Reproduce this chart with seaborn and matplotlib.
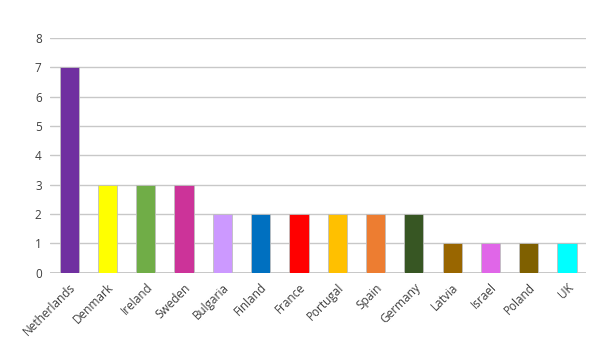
import matplotlib
matplotlib.use("Agg")
import matplotlib.pyplot as plt
import seaborn as sns
import pandas as pd

countries = ["Netherlands", "Denmark", "Ireland", "Sweden", "Bulgaria", "Finland", "France",
             "Portugal", "Spain", "Germany", "Latvia", "Israel", "Poland", "UK"]
values = [7, 3, 3, 3, 2, 2, 2, 2, 2, 2, 1, 1, 1, 1]
colors = ["#7030A0", "#FFFF00", "#70AD47", "#CC3399", "#CC99FF", "#0070C0", "#FF0000",
          "#FFC000", "#ED7D31", "#375623", "#996600", "#E066E8", "#7F6000", "#00FFFF"]
yticks = [0, 1, 2, 3, 4, 5, 6, 7, 8]

sns.set_theme(style="white")
plt.rcParams['font.family'] = ['Open Sans', 'DejaVu Sans']

df = pd.DataFrame({"country": countries, "value": values})

fig = plt.figure(figsize=(6, 3.5), dpi=100)
ax = fig.add_axes([0.0833, 0.221, 0.8937, 0.671])
sns.barplot(data=df, x="country", y="value", hue="country", palette=colors,
            saturation=1, legend=False, width=0.5, edgecolor="#BFBFBF", linewidth=0.6,
            ax=ax, zorder=3)

ax.set_ylim(0, 8)
ax.set_yticks(yticks)
ax.set_xlim(-0.5, len(countries) - 0.5)
ax.yaxis.grid(True, color="#C8C8C8", linewidth=1.0, zorder=0)
ax.set_axisbelow(True)
for s in ["top", "right", "left", "bottom"]:
    ax.spines[s].set_visible(False)
ax.axhline(0, color="#C0C0C0", linewidth=1.2, zorder=2)
ax.set_xlabel("")
ax.set_ylabel("")
ax.tick_params(axis="both", length=0, labelsize=8.5, colors="#404040", pad=6)
plt.setp(ax.get_xticklabels(), rotation=45, ha="right", rotation_mode="anchor")

fig.savefig("out.png", dpi=100, facecolor="white")
